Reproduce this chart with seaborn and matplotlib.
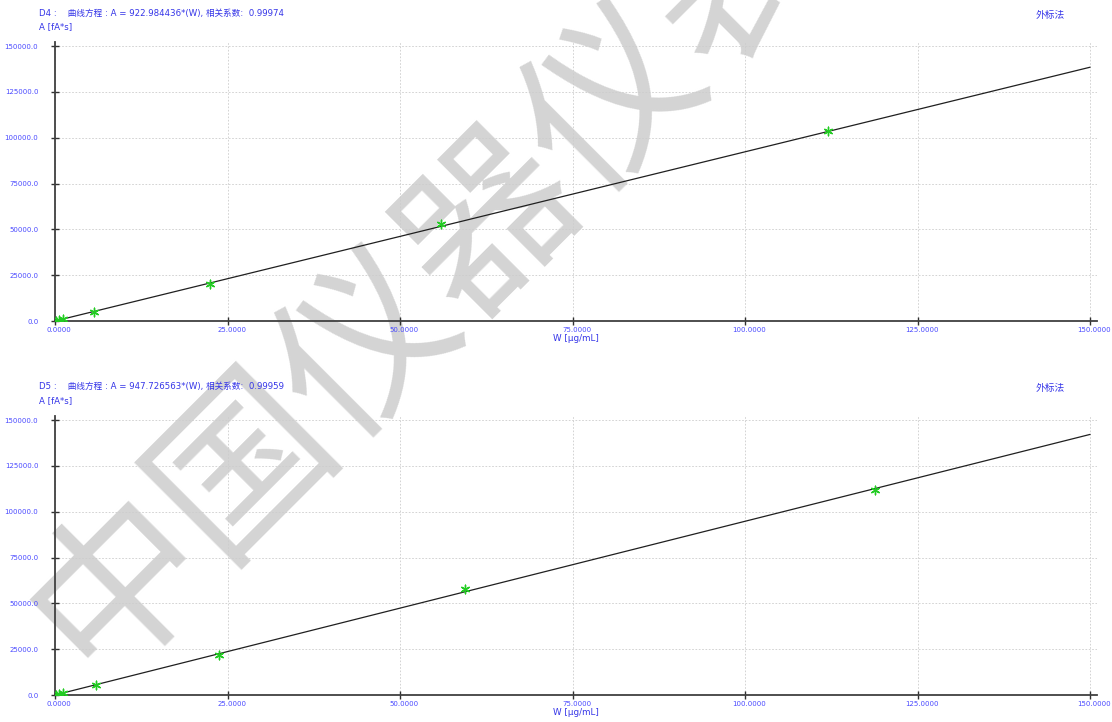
import matplotlib
matplotlib.use("Agg")
import matplotlib.pyplot as plt
import matplotlib.transforms as mtransforms
import pandas as pd
import seaborn as sns
from matplotlib.ticker import FormatStrFormatter

# D4 标准曲线
d4_conc = [0.112, 0.56, 1.12, 5.6, 22.4, 56.0, 112.0]
d4_area = [110.0, 520.0, 1040.0, 4900.0, 20200.0, 52900.0, 103600.0]
d4_fit_x = [0.0, 150.0]
d4_fit_y = [0.0, 138447.7]
d4_title = "D4 :    曲线方程 : A = 922.984436*(W), 相关系数:  0.99974"

# D5 标准曲线
d5_conc = [0.119, 0.594, 1.188, 5.94, 23.76, 59.4, 118.8]
d5_area = [120.0, 560.0, 1130.0, 5450.0, 21800.0, 57800.0, 111800.0]
d5_fit_x = [0.0, 150.0]
d5_fit_y = [0.0, 142159.0]
d5_title = "D5 :    曲线方程 : A = 947.726563*(W), 相关系数:  0.99959"

x_ticks = [0, 25, 50, 75, 100, 125, 150]
y_ticks = [0, 25000, 50000, 75000, 100000, 125000, 150000]

BLUE = "#3535e8"
TICK_BLUE = "#4a4aff"
GREEN = "#22cc22"

sns.set_theme(style="white")
plt.rcParams["font.family"] = ["DejaVu Sans", "Noto Sans CJK SC"]


def draw_curve(fig, rect, conc, area, fit_x, fit_y):
    ax = fig.add_axes(rect)
    ax.set_facecolor("none")
    pts = pd.DataFrame({"W": conc, "A": area})
    fit = pd.DataFrame({"W": fit_x, "A": fit_y})
    sns.lineplot(data=fit, x="W", y="A", color="#202020", linewidth=0.9, ax=ax)
    sns.scatterplot(
        data=pts, x="W", y="A", marker=(6, 2, 0), s=38,
        color=GREEN, edgecolor=GREEN, linewidth=1.0, ax=ax, zorder=5,
    )
    ax.set_xlim(0, 151)
    ax.set_ylim(0, 152200)
    ax.set_xticks(x_ticks)
    ax.set_yticks(y_ticks)
    ax.xaxis.set_major_formatter(FormatStrFormatter("%.4f"))
    ax.yaxis.set_major_formatter(FormatStrFormatter("%.1f"))
    ax.tick_params(axis="both", labelsize=5, labelcolor=TICK_BLUE,
                   direction="inout", length=6, width=1, color="#303030",
                   left=True, bottom=True)
    ax.tick_params(axis="x", pad=1)
    ax.tick_params(axis="y", pad=9)
    shift = mtransforms.ScaledTranslation(4 / 100, 0, fig.dpi_scale_trans)
    for lab in ax.get_xticklabels():
        lab.set_transform(lab.get_transform() + shift)
    ax.grid(True, color="#cccccc", linestyle=(0, (2, 2)), linewidth=0.6)
    for side in ("top", "right"):
        ax.spines[side].set_visible(False)
    for side in ("left", "bottom"):
        ax.spines[side].set_color("#404040")
        ax.spines[side].set_linewidth(1.3)
    ax.set_xlabel("W [μg/mL]", fontsize=6.3, color=BLUE, labelpad=1)
    ax.set_ylabel("")
    return ax


fig = plt.figure(figsize=(11.12, 7.22), dpi=100)

# 水印
fig.text(0.385, 0.616, "中国仪器仪表", fontsize=125, rotation=45,
         color="#d4d4d4", ha="center", va="center", zorder=-1,
         family=["Noto Sans CJK SC", "DejaVu Sans"])

draw_curve(fig, [55 / 1112, 1 - 321 / 722, 1042 / 1112, 279 / 722],
           d4_conc, d4_area, d4_fit_x, d4_fit_y)
draw_curve(fig, [55 / 1112, 1 - 695 / 722, 1042 / 1112, 279 / 722],
           d5_conc, d5_area, d5_fit_x, d5_fit_y)

for title, y_title, y_unit in [(d4_title, 13, 27), (d5_title, 386, 401)]:
    fig.text(39 / 1112, 1 - y_title / 722, title, fontsize=6.2, color=BLUE,
             va="center", ha="left")
    fig.text(39 / 1112, 1 - y_unit / 722, "A [fA*s]", fontsize=6.2,
             color=BLUE, va="center", ha="left")
    fig.text(1050 / 1112, 1 - (y_title + 2) / 722, "外标法", fontsize=7,
             color=BLUE, va="center", ha="center")

fig.savefig("out.png", dpi=100)
